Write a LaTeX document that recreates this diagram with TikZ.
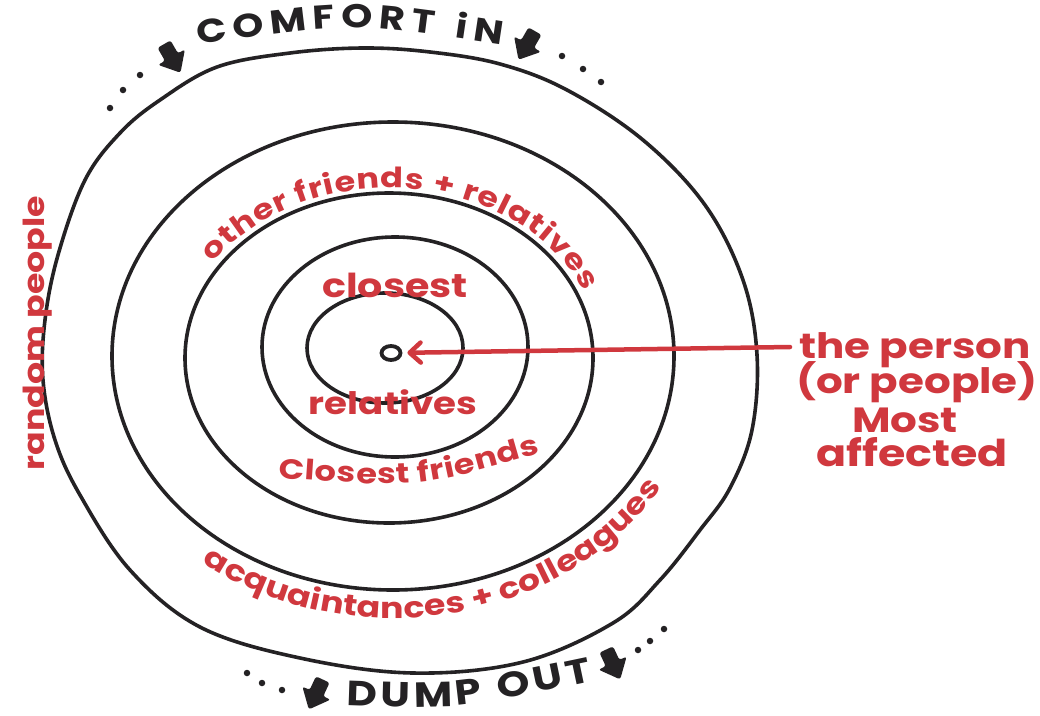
\documentclass[tikz,border=0pt]{standalone}
\usepackage{fontspec}
\usetikzlibrary{arrows.meta,decorations.text,shapes.geometric}
\newfontfamily\hand[FakeStretch=1.2]{Poppins}
\definecolor{ink}{RGB}{36,34,36}
\definecolor{hred}{RGB}{208,56,62}
\newcommand\fOther{\color{hred}\hand\bfseries\fontsize{28}{28}\selectfont}
\newcommand\fAcq{\color{hred}\hand\bfseries\fontsize{29}{29}\selectfont}
\newcommand\fCf{\color{hred}\hand\bfseries\fontsize{28}{28}\selectfont}
\newcommand\fComfort{\color{ink}\hand\bfseries\fontsize{33}{33}\selectfont}
\newcommand\fDump{\color{ink}\hand\bfseries\fontsize{35}{35}\selectfont}
\newcommand\harrow[3]{%
  \begin{scope}[shift={(#1,#2)}, rotate=#3]
    \fill[ink, rounded corners=2.5pt] (-16,-7.5) -- (-1,-7.5) -- (-1,-15.5)
      -- (17,0) -- (-1,15.5) -- (-1,7.5) -- (-16,7.5) -- cycle;
  \end{scope}}
\begin{document}
\begin{tikzpicture}[x=1pt,y=-1pt,
  ring/.style={draw=ink, line width=3.6pt},
  dot/.style={circle, fill=ink, inner sep=0pt, minimum size=6.5pt},
  redlbl/.style={text=hred, font=\hand\bfseries\fontsize{#1}{#1}\selectfont, inner sep=0pt},
]
\useasboundingbox[fill=white] (0,0) rectangle (1040,715);

% rings
\draw[ring] plot[smooth cycle, tension=0.6] coordinates {
  (363,48) (430,52) (500,64) (567,90) (643,140) (705,205) (743,280)
  (757,355) (752,430) (730,488) (700,530) (660,580) (613,623) (523,662)
  (413,673) (300,658) (200,627) (130,570) (80,495) (55,440) (43,380)
  (45,320) (58,255) (85,180) (120,133) (160,100) (217,67) (290,53)};
\draw[ring] (393,356) ellipse [x radius=281, y radius=234];
\draw[ring] (389,358) ellipse [x radius=204, y radius=165];
\draw[ring] (395,347) ellipse [x radius=133, y radius=110];
\draw[ring] (385,348) ellipse [x radius=78, y radius=55];

% centre and red arrow
\node[draw=ink, line width=3.8pt, ellipse, minimum width=19pt,
  minimum height=14pt, inner sep=0pt] (o) at (391,353) {};
\coordinate (rs) at (790,347);
\draw[hred, line width=4.5pt, line cap=round,
  -{Straight Barb[length=11pt,width=20pt,round]}, shorten >=5pt] (rs) -- (o);

% red labels
\node[redlbl=33, anchor=base] (clo) at (395,297) {closest};
\node[redlbl=31, anchor=base] (rel) at (393,414) {relatives};
\node[redlbl=35, anchor=base] (p1) at (915,358) {the person};
\node[redlbl=35, anchor=base] (p2) at (917,393) {(or people)};
\node[redlbl=35, anchor=base] (p3) at (905,432) {Most};
\node[redlbl=37, anchor=base] (p4) at (912,466) {affected};
\node[redlbl=29, anchor=base, rotate=90] (rnd) at (44,333) {random people};

\path[decorate, decoration={text along path, text={|\fOther|other friends + relatives},
  text align={fit to path}}]
  (213.2,262.9) arc[start angle=214, end angle=337, x radius=212, y radius=170];
\path[decorate, decoration={text along path, text={|\fAcq|acquaintances + colleagues},
  text align={fit to path}}]
  (202.1,562.5) arc[start angle=128, end angle=30, x radius=310, y radius=262];
\path[decorate, decoration={text along path, text={|\fCf|Closest friends},
  text align={fit to path}}]
  (278,478) .. controls (420,488) .. (540,453);

% black labels
\path[decorate, decoration={text along path, text={|\fComfort|COMFORT iN},
  text align={fit to path}}]
  (198,45) .. controls (350,22) .. (502,45);
\path[decorate, decoration={text along path, text={|\fDump|DUMP OUT},
  text align={fit to path}}]
  (346,705) .. controls (460,709) .. (593,681);

% block arrows
\harrow{172}{58}{-60}
\harrow{527}{45}{-120}
\harrow{316}{694}{-115}
\harrow{613}{664}{-65}

% dots
\node[dot] (d1) at (140,75) {};
\node[dot] (d2) at (123,90) {};
\node[dot] (d3) at (110,108) {};
\node[dot] (d4) at (562,56) {};
\node[dot] (d5) at (583,69) {};
\node[dot] (d6) at (601,82) {};
\node[dot] (d7) at (247,673) {};
\node[dot] (d8) at (262,683) {};
\node[dot] (d9) at (282,690) {};
\node[dot] (d10) at (638,650) {};
\node[dot] (d11) at (650,641) {};
\node[dot] (d12) at (664,629) {};
\end{tikzpicture}
\end{document}
